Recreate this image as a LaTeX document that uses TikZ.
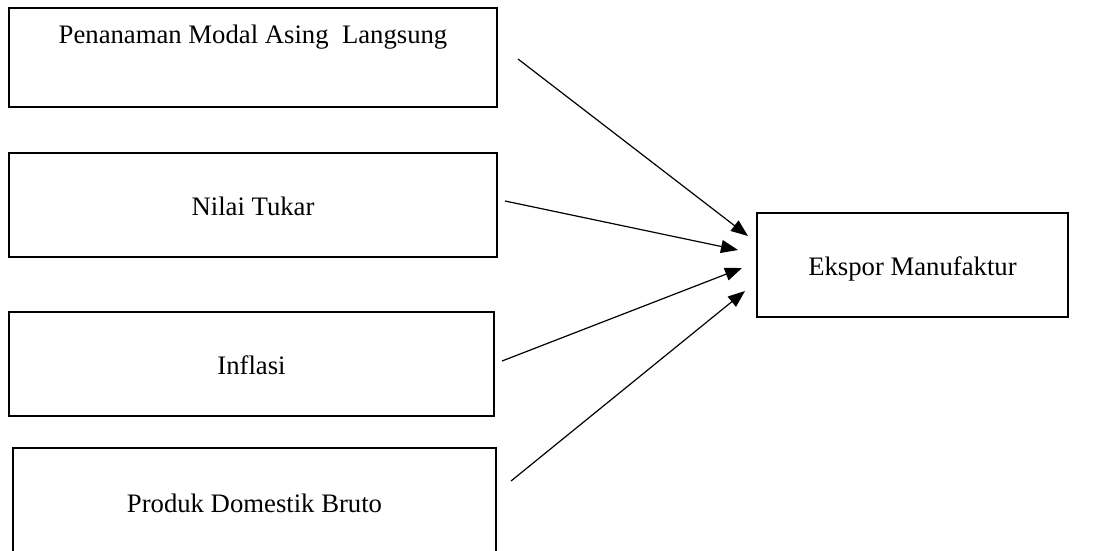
\documentclass[tikz,border=0pt]{standalone}
\usepackage{fontspec}
\setmainfont{Liberation Serif}
\usetikzlibrary{arrows.meta,positioning}

\tikzset{
  varbox/.style={draw,rectangle,line width=2pt,inner sep=0pt,
    text height=26pt,text depth=6pt,
    font=\fontsize{26.7}{32}\selectfont},
  conn/.style={-{Triangle[length=17pt,width=13pt]},line width=1.2pt},
}

\begin{document}
\begin{tikzpicture}[x=1pt,y=-1pt]
  \useasboundingbox (0,0) rectangle (1099,550);

  % variabel bebas
  \node[varbox,minimum width=488pt,minimum height=99pt] (pma) at (253,57.5) {};
  \node[anchor=base,font=\fontsize{26.7}{32}\selectfont] (pmatext) at (253,43) {Penanaman Modal Asing\ \ Langsung};
  \node[varbox,minimum width=488pt,minimum height=104pt] (kurs) at (253,205) {Nilai Tukar};
  \node[varbox,minimum width=485pt,minimum height=104pt] (infl) at (251.5,364) {Inflasi};
  \node[varbox,minimum width=483pt,minimum height=108pt] (pdb) at (254.5,502) {Produk Domestik Bruto};

  % variabel terikat
  \node[varbox,minimum width=311pt,minimum height=104pt] (ekspor) at (912.5,265) {Ekspor Manufaktur};

  % ujung panah
  \coordinate (s1) at (518,59);  \coordinate (t1) at (748,236);
  \coordinate (s2) at (505,201); \coordinate (t2) at (738,250);
  \coordinate (s3) at (502,361); \coordinate (t3) at (742,268);
  \coordinate (s4) at (511,481); \coordinate (t4) at (745,291);

  \foreach \i in {1,...,4}{
    \draw[conn] (s\i) -- (t\i);
  }
\end{tikzpicture}
\end{document}
